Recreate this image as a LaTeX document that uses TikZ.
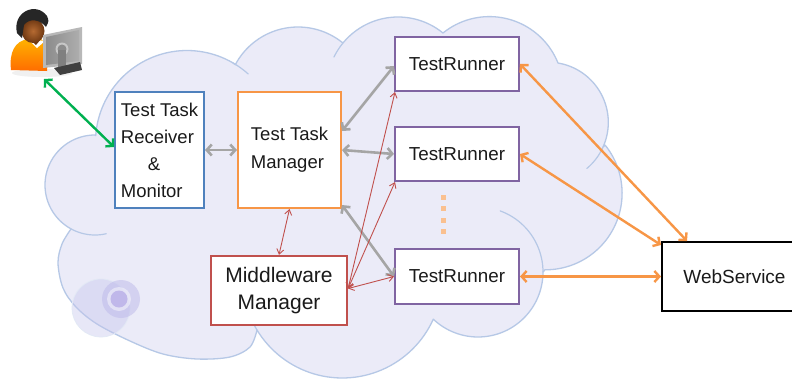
\documentclass[tikz,border=0pt]{standalone}
\usepackage{fontspec}
\setmainfont{Liberation Sans}
\usetikzlibrary{arrows.meta,calc}
\definecolor{cloudfill}{HTML}{EBEBF8}
\definecolor{cloudline}{HTML}{B6C8E6}
\definecolor{bluebox}{HTML}{4F81BD}
\definecolor{orangebox}{HTML}{F79646}
\definecolor{redbox}{HTML}{C0504D}
\definecolor{purplebox}{HTML}{8064A2}
\definecolor{grayarrow}{HTML}{A5A5A5}
\definecolor{greenarrow}{HTML}{00B050}
\definecolor{dotcolor}{HTML}{FAC090}
\definecolor{textdark}{HTML}{1A1A1A}
\definecolor{bubbleA}{HTML}{C4C4EC}
\definecolor{bubbleB}{HTML}{BDB9EA}
\definecolor{bubbleC}{HTML}{C0B8EA}
\definecolor{skin}{HTML}{6E3812}
\definecolor{skinlight}{HTML}{B56A32}

\begin{document}
\begin{tikzpicture}[x=1pt,y=-1pt,
  % one puff of the cloud outline: centre x, centre y, radius, start angle, end angle
  puff/.style n args={5}{insert path={-- plot[domain=#4:#5, samples=48, variable=\t]
    ({#1+#3*cos(\t)},{#2+#3*sin(\t)})}},
  puffarc/.style n args={5}{insert path={plot[domain=#4:#5, samples=24, variable=\t]
    ({#1+#3*cos(\t)},{#2+#3*sin(\t)})}},
  box/.style={draw, fill=white, line width=2pt, inner sep=0pt, text=textdark,
    font=\fontsize{18.5}{27}\selectfont},
  runner/.style={box, draw=purplebox, minimum width=124pt, minimum height=54pt,
    font=\fontsize{18.8}{22}\selectfont},
  graylink/.style={draw=grayarrow, line width=2.6pt, >={Straight Barb[length=5pt,width=11pt]}, <->},
  orangelink/.style={draw=orangebox, line width=2.4pt, >={Straight Barb[length=5pt,width=11pt]}, <->},
  greenlink/.style={draw=greenarrow, line width=2.4pt, >={Straight Barb[length=5pt,width=11pt]}, <->},
  redlink/.style={draw=redbox, line width=0.9pt, >={Straight Barb[length=5pt,width=7pt]}, <->},
  cloudedge/.style={draw=cloudline, line width=1.3pt, line join=round},
  innerarc/.style={draw=cloudline, line width=1.2pt, line cap=round}]

\useasboundingbox (0,0) rectangle (792,378);
\clip (0,0) rectangle (792,378);
\fill[white] (0,0) rectangle (792,378);

% ---- cloud, traced puff by puff clockwise ----
\path[fill=cloudfill, cloudedge] (95.7,135.6)
  [puff={187}{142}{91.5}{184}{300}]
  [puff={298}{98}{71}{208}{309}]
  [puff={398}{88.2}{71.2}{219.4}{309.2}]
  [puff={489.4}{90.5}{73.9}{231.1}{338.2}]
  [puff={548.1}{122.4}{60.2}{279.5}{384.1}]
  [puff={545.5}{193.2}{76.6}{321.2}{450.4}]
  [puff={478}{272}{65}{0}{133.5}]
  [puff={342.3}{278.2}{99.8}{24.3}{148.7}]
  -- plot[smooth, tension=0.55] coordinates {(257,330) (250,347) (230,357) (197,359)
       (163,354) (130,341) (97,324) (76,307) (63,288) (58,263) (62,244) (71,229)}
  [puff={95}{185}{50}{119}{270}]
  -- cycle;

% edges of overlapping puffs seen inside the cloud
\draw[innerarc] [puffarc={187}{142}{91.5}{300}{312}];
\draw[innerarc] [puffarc={398}{88.2}{71.2}{206}{219.4}];
\draw[innerarc] [puffarc={548.1}{122.4}{60.2}{24.1}{50}];
\draw[innerarc] [puffarc={478}{272}{65}{-70}{0}];
\draw[innerarc] [puffarc={95}{185}{50}{77}{119}];
\draw[innerarc] [puffarc={342.3}{278.2}{99.8}{148.7}{156}];

% thought bubbles
\fill[bubbleA, opacity=0.4] (101,308) circle (29);
\draw[cloudline!40, line width=0.7pt] (101,308) circle (29);
\fill[bubbleB, opacity=0.5] (121,299) circle (19);
\fill[white, opacity=0.45] (119,299) circle (12);
\fill[bubbleC] (119,299) circle (8.5);

% ---- user at the workstation ----
\fill[black!6] (42,73) ellipse [x radius=30, y radius=4];
\shade[top color=orange!60!yellow, bottom color=orange!85!red]
  (11,70) .. controls (9,52) and (15,41) .. (28,39) -- (41,39)
  .. controls (46,43) .. (47,52) -- (47,71) -- cycle;
\fill[white] (28,39) -- (37,48) -- (45,41) -- cycle;
\fill[skin] (30,39) -- (36,45) -- (41,39) -- cycle;
\shade[inner color=skinlight, outer color=skin] (33,31) ellipse [x radius=11.5, y radius=12];
\fill[black!85] (17,33) .. controls (12,12) and (36,1) .. (47,16)
  .. controls (49,21) .. (46,27) .. controls (40,19) and (29,18) .. (24,25)
  -- (22,38) -- cycle;
\fill[black!28] (43,35) -- (82,27) -- (82,64) -- (43,68) -- cycle;
\shade[left color=black!45, right color=black!32] (46,37) -- (79,30) -- (79,61) -- (46,65) -- cycle;
\fill[black!22] (62,49) circle (6.5);
\fill[black!45] (62,49) circle (4.5);
\fill[black!50] (58,50) rectangle (66,67);
\fill[black!75] (54,68) -- (80,62) -- (82,70) -- (60,75) -- cycle;
\coordinate (user) at (44,79);

% ---- components ----
\node[box, draw=bluebox, minimum width=89pt, minimum height=116pt, align=left]
  (rcv) at (159.5,150) {Test Task\\Receiver\\\hspace*{27pt}\&\\Monitor};
\node[box, draw=orangebox, minimum width=103pt, minimum height=116pt, align=left,
  font=\fontsize{18.5}{28}\selectfont]
  (mgr) at (289.5,150) {Test Task\\Manager};
\node[box, draw=redbox, line width=2.3pt, minimum width=136pt, minimum height=69pt, align=center,
  font=\fontsize{21}{27}\selectfont]
  (mw) at (279,290.5) {Middleware\\Manager};
\node[runner] (tr1) at (457,64) {TestRunner};
\node[runner] (tr2) at (457,154) {TestRunner};
\node[runner, minimum height=55pt] (tr3) at (457,276.5) {TestRunner};
\node[box, draw=black, minimum width=145pt, minimum height=69pt,
  font=\fontsize{19}{22}\selectfont] (ws) at (734.5,276.5) {WebService};

% further runners
\foreach \yy in {197,208.5,220,231.5}
  \fill[dotcolor] (440.5,\yy-2.5) rectangle (445.5,\yy+2.5);

% ---- connectors ----
\draw[greenlink] (user) -- ([yshift=3pt]rcv.west);
\draw[graylink] (rcv.east) -- (mgr.west);
\draw[graylink] ([yshift=19pt]mgr.east) -- ([yshift=-2pt]tr1.west);
\draw[graylink] (mgr.east) -- (tr2.west);
\draw[graylink] ([yshift=4pt]mgr.south east) -- (tr3.west);

\draw[redlink] (mgr.south) -- (mw.north);
\draw[redlink] ([yshift=2pt]mw.east) -- ([xshift=1pt]tr1.south west);
\draw[redlink] ([yshift=2pt]mw.east) -- ([xshift=1pt]tr2.south west);
\draw[redlink] ([yshift=2pt]mw.east) -- (tr3.west);

\draw[orangelink] (tr1.east) -- ([xshift=26pt]ws.north west);
\draw[orangelink] (tr2.east) -- ([yshift=-4pt]ws.north west);
\draw[orangelink] (tr3.east) -- (ws.west);
\end{tikzpicture}
\end{document}
